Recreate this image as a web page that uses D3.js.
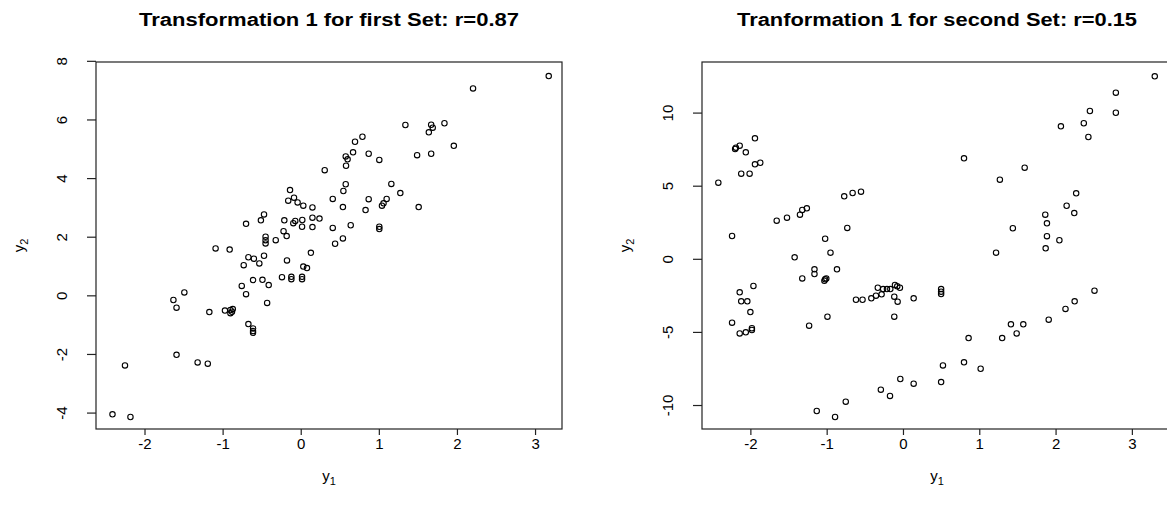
<!DOCTYPE html>
<meta charset="utf-8">
<head>
  <title>Transformation 1 scatter plots</title>
</head>

<style>
  body { margin: 0; background: #fff; }
  svg { font-family: "Liberation Sans", Arial, sans-serif; }
  .pt { fill: none; stroke: #000; stroke-width: 1.1; }
  .box { fill: none; stroke: #222; stroke-width: 1.2; }
  .tick line { stroke: #222; stroke-width: 1.2; }
  .tick text { font-size: 15px; fill: #000; }
</style>

<body>
  <div id="content">
    <svg width="1167" height="517"></svg>
  </div>

  <script src="https://cdnjs.cloudflare.com/ajax/libs/d3/7.8.5/d3.min.js"></script>

  <script>
  // first set: y1, y2 pairs
  var set1X = [3.175, 2.206, 1.34, 1.67, 1.69, 1.64, 1.84, 1.96, 1.49, 1.67,
    0.79, 0.695, 0.67, 0.576, 0.60, 0.58, 0.87, 1.006, 0.307, 0.576,
    0.546, 1.16, 1.275, 0.41, 0.54, 0.87, 0.83, 1.04, 1.06, 1.10,
    1.51, 0.24, 0.41, 0.64, 1.006, 1.006, 0.54, 0.44, -0.137, -0.086,
    -0.16, -0.04, 0.033, 0.15, -0.47, -0.51, -0.70, -0.21, -0.095, -0.07,
    0.02, 0.017, 0.15, 0.15, -0.22, -0.18, -0.45, -0.45, -0.45, -0.32,
    -1.09, -0.91, -0.67, -0.60, -0.47, -0.73, -0.53, -0.176, 0.13, 0.033,
    0.08, 0.017, 0.017, -0.12, -0.12, -0.24, -0.755, -0.70, -0.61, -0.49,
    -0.41, -0.43, -1.49, -1.63, -1.59, -1.17, -0.97, -0.90, -0.88, -0.87,
    -0.90, -0.67, -0.61, -0.61, -0.61, -1.59, -1.32, -1.19, -2.25, -2.41,
    -2.18];
  var set1Y = [7.48, 7.06, 5.81, 5.82, 5.72, 5.56, 5.87, 5.10, 4.78, 4.83,
    5.41, 5.24, 4.88, 4.74, 4.64, 4.42, 4.83, 4.62, 4.27, 3.79,
    3.56, 3.80, 3.49, 3.29, 3.01, 3.28, 2.91, 3.06, 3.14, 3.29,
    3.01, 2.62, 2.30, 2.39, 2.34, 2.26, 1.94, 1.76, 3.59, 3.33,
    3.23, 3.17, 3.06, 3.00, 2.76, 2.56, 2.44, 2.56, 2.46, 2.54,
    2.57, 2.34, 2.65, 2.33, 2.19, 2.02, 2.00, 1.88, 1.77, 1.88,
    1.60, 1.56, 1.30, 1.25, 1.35, 1.03, 1.09, 1.19, 1.45, 0.98,
    0.93, 0.63, 0.55, 0.63, 0.55, 0.62, 0.32, 0.04, 0.52, 0.53,
    0.35, -0.26, 0.10, -0.16, -0.42, -0.57, -0.52, -0.50, -0.56, -0.47,
    -0.61, -0.98, -1.13, -1.22, -1.28, -2.03, -2.29, -2.33, -2.39, -4.06,
    -4.15];

  // second set
  var set2X = [-2.42, -2.20, -2.19, -2.14, -2.06, -1.94, -1.94, -1.87, -2.12, -2.01,
    -2.24, -1.655, -1.52, -1.35, -1.32, -1.26, -0.77, -0.66, -0.55, -0.73,
    -1.02, 3.30, 2.79, 2.79, 2.45, 2.37, 2.43, 2.07, 0.80, 1.595,
    1.27, 2.27, 2.145, 2.245, 1.865, 1.887, 1.887, 2.05, 1.87, 1.44,
    1.22, 0.50, 0.50, 0.50, 0.14, 2.51, 2.25, 2.13, 1.91, 1.415,
    1.577, 1.49, 1.30, 0.86, 0.524, 0.80, 1.018, 0.50, 0.14, -0.95,
    -1.42, -1.16, -1.16, -1.32, -0.865, -1.02, -1.005, -1.03, -0.99, -1.23,
    -1.96, -2.14, -2.12, -2.04, -2.00, -2.24, -2.14, -2.06, -1.98, -1.98,
    -0.616, -0.53, -0.415, -0.354, -0.28, -0.33, -0.26, -0.21, -0.166, -0.105,
    -0.075, -0.04, -0.114, -0.07, -0.114, -0.035, -0.29, -0.17, -0.75, -1.13,
    -0.89];
  var set2Y = [5.21, 7.51, 7.60, 7.74, 7.28, 8.24, 6.46, 6.57, 5.82, 5.82,
    1.56, 2.61, 2.81, 3.02, 3.34, 3.45, 4.27, 4.50, 4.59, 2.11,
    1.37, 12.48, 11.36, 9.99, 10.11, 9.27, 8.33, 9.06, 6.87, 6.23,
    5.41, 4.48, 3.63, 3.13, 3.02, 2.43, 1.55, 1.27, 0.72, 2.09,
    0.42, -2.07, -2.25, -2.41, -2.70, -2.18, -2.91, -3.43, -4.16, -4.48,
    -4.48, -5.10, -5.42, -5.42, -7.29, -7.08, -7.52, -8.43, -8.54, 0.42,
    0.10, -0.72, -1.04, -1.34, -0.72, -1.40, -1.34, -1.50, -3.96, -4.57,
    -1.86, -2.29, -2.91, -2.91, -3.64, -4.37, -5.10, -5.03, -4.87, -4.75,
    -2.80, -2.80, -2.70, -2.52, -2.43, -1.98, -2.07, -2.07, -2.07, -1.79,
    -1.88, -1.98, -2.59, -2.93, -3.96, -8.22, -8.95, -9.38, -9.77, -10.41,
    -10.82];

  var titles = ["Transformation 1 for first Set: r=0.87", "Tranformation 1 for second Set: r=0.15"];
  var xTicks1 = [-2, -1, 0, 1, 2, 3], yTicks1 = [-4, -2, 0, 2, 4, 6, 8];
  var xTicks2 = [-2, -1, 0, 1, 2, 3], yTicks2 = [-10, -5, 0, 5, 10];

  var svg = d3.select("svg");
  // R prints a plain hyphen for negatives
  var fmt = function(d) { return String(d); };

  var panels = [
    { xs: set1X, ys: set1Y, title: titles[0], xt: xTicks1, yt: yTicks1,
      left: 96, right: 562, top: 62, bottom: 429,
      xdom: [-2.621, 3.345], ydom: [-4.56, 7.96], titleW: 380 },
    { xs: set2X, ys: set2Y, title: titles[1], xt: xTicks2, yt: yTicks2,
      left: 702, right: 1172, top: 62, bottom: 429,
      xdom: [-2.634, 3.526], ydom: [-11.64, 13.46], titleW: 400 }
  ];

  panels.forEach(function(p) {
    var x = d3.scaleLinear().domain(p.xdom).range([p.left, p.right]);
    var y = d3.scaleLinear().domain(p.ydom).range([p.bottom, p.top]);
    var g = svg.append("g");

    g.append("rect").attr("class", "box")
      .attr("x", p.left).attr("y", p.top)
      .attr("width", p.right - p.left).attr("height", p.bottom - p.top);

    var xa = g.append("g")
      .attr("transform", "translate(0," + p.bottom + ")")
      .call(d3.axisBottom(x).tickValues(p.xt).tickSize(6).tickPadding(3)
        .tickFormat(fmt));
    xa.select(".domain").remove();
    xa.selectAll("text").attr("font-family", null).attr("font-size", null);

    var ya = g.append("g")
      .attr("transform", "translate(" + p.left + ",0)")
      .call(d3.axisLeft(y).tickValues(p.yt).tickSize(9).tickFormat(fmt));
    ya.select(".domain").remove();
    ya.selectAll("text")
      .attr("font-family", null).attr("font-size", null)
      .attr("transform", "rotate(-90)")
      .attr("x", 0).attr("y", -29).attr("dy", 0)
      .style("text-anchor", "middle");

    var cx = (p.left + p.right) / 2, cy = (p.top + p.bottom) / 2;

    g.append("text")
      .attr("x", cx).attr("y", 26)
      .attr("text-anchor", "middle")
      .attr("textLength", p.titleW).attr("lengthAdjust", "spacingAndGlyphs")
      .style("font-size", "18px").style("font-weight", "bold")
      .text(p.title);

    var xl = g.append("text")
      .attr("x", cx).attr("y", 481)
      .attr("text-anchor", "middle")
      .style("font-size", "15px");
    xl.append("tspan").text("y");
    xl.append("tspan").attr("dy", 4).style("font-size", "11px").text("1");

    var yl = g.append("text")
      .attr("transform", "translate(" + (p.left - 72) + "," + cy + ") rotate(-90)")
      .attr("text-anchor", "middle")
      .style("font-size", "15px");
    yl.append("tspan").text("y");
    yl.append("tspan").attr("dy", 4).style("font-size", "11px").text("2");

    var pts = p.xs.map(function(d, i) { return { x: d, y: p.ys[i] }; });
    g.selectAll("circle")
      .data(pts)
      .enter()
      .append("circle")
      .attr("class", "pt")
      .attr("r", 2.7)
      .attr("cx", function(d) { return x(d.x); })
      .attr("cy", function(d) { return y(d.y); });
  });
  </script>
</body>
</html>
